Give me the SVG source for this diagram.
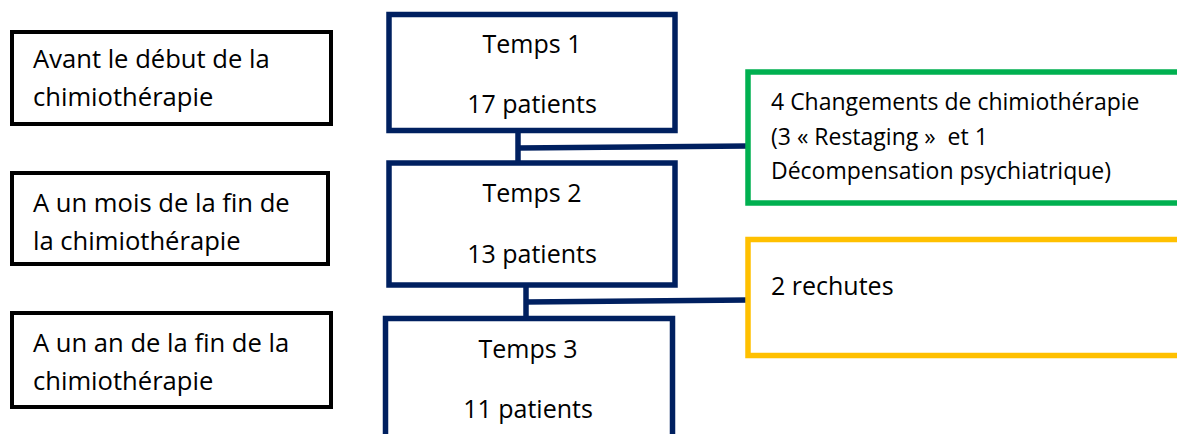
<svg xmlns="http://www.w3.org/2000/svg" width="1177" height="434" viewBox="0 0 1177 434">
<style>
text{font-family:"Open Sans","Noto Sans","Liberation Sans",sans-serif;font-size:25px;fill:#000}
.l{font-size:25.6px}
.lbl{fill:#fff;stroke:#000;stroke-width:4}
.t{fill:#fff;stroke:#002060;stroke-width:5.5}
.c{text-anchor:middle}
.g{font-size:23px}
.conn{stroke:#002060;stroke-width:5.5;fill:none}
</style>
<rect width="1177" height="434" fill="#fff"/>
<g id="label1"><rect class="lbl" x="12" y="32" width="319" height="92"/><text class="l" x="33" y="68">Avant le début de la</text><text class="l" x="33" y="106">chimiothérapie</text></g>
<g id="label2"><rect class="lbl" x="12" y="173" width="316" height="91"/><text class="l" x="33" y="212">A un mois de la fin de</text><text class="l" x="33" y="250">la chimiothérapie</text></g>
<g id="label3"><rect class="lbl" x="12" y="313" width="319" height="94"/><text class="l" x="33" y="352">A un an de la fin de la</text><text class="l" x="33" y="390">chimiothérapie</text></g>
<g id="connectors">
<line class="conn" x1="518" y1="130" x2="518" y2="163"/>
<line class="conn" x1="518" y1="148" x2="748" y2="146"/>
<line class="conn" x1="526" y1="285" x2="526" y2="318"/>
<line class="conn" x1="526" y1="302" x2="748" y2="300"/>
</g>
<g id="temps1"><rect class="t" x="389" y="14.5" width="286" height="116"/><text class="c" x="532" y="53">Temps 1</text><text class="c" x="532" y="113">17 patients</text></g>
<g id="temps2"><rect class="t" x="389" y="163" width="286" height="122"/><text class="c" x="532" y="202">Temps 2</text><text class="c" x="532" y="263">13 patients</text></g>
<g id="temps3"><rect class="t" x="385.5" y="318.5" width="287" height="130"/><text class="c" x="528" y="358">Temps 3</text><text class="c" x="528" y="418">11 patients</text></g>
<g id="changements"><rect x="748" y="72" width="440" height="131" fill="#fff" stroke="#00B050" stroke-width="5.5"/>
<text class="g" x="771" y="110">4 Changements de chimiothérapie</text>
<text class="g" x="771" y="145" xml:space="preserve">(3 « Restaging »  et 1</text>
<text class="g" x="771" y="179">Décompensation psychiatrique)</text></g>
<g id="rechutes"><rect x="748" y="239.5" width="440" height="116" fill="#fff" stroke="#FFC000" stroke-width="5.5"/><text x="771" y="295">2 rechutes</text></g>
</svg>
